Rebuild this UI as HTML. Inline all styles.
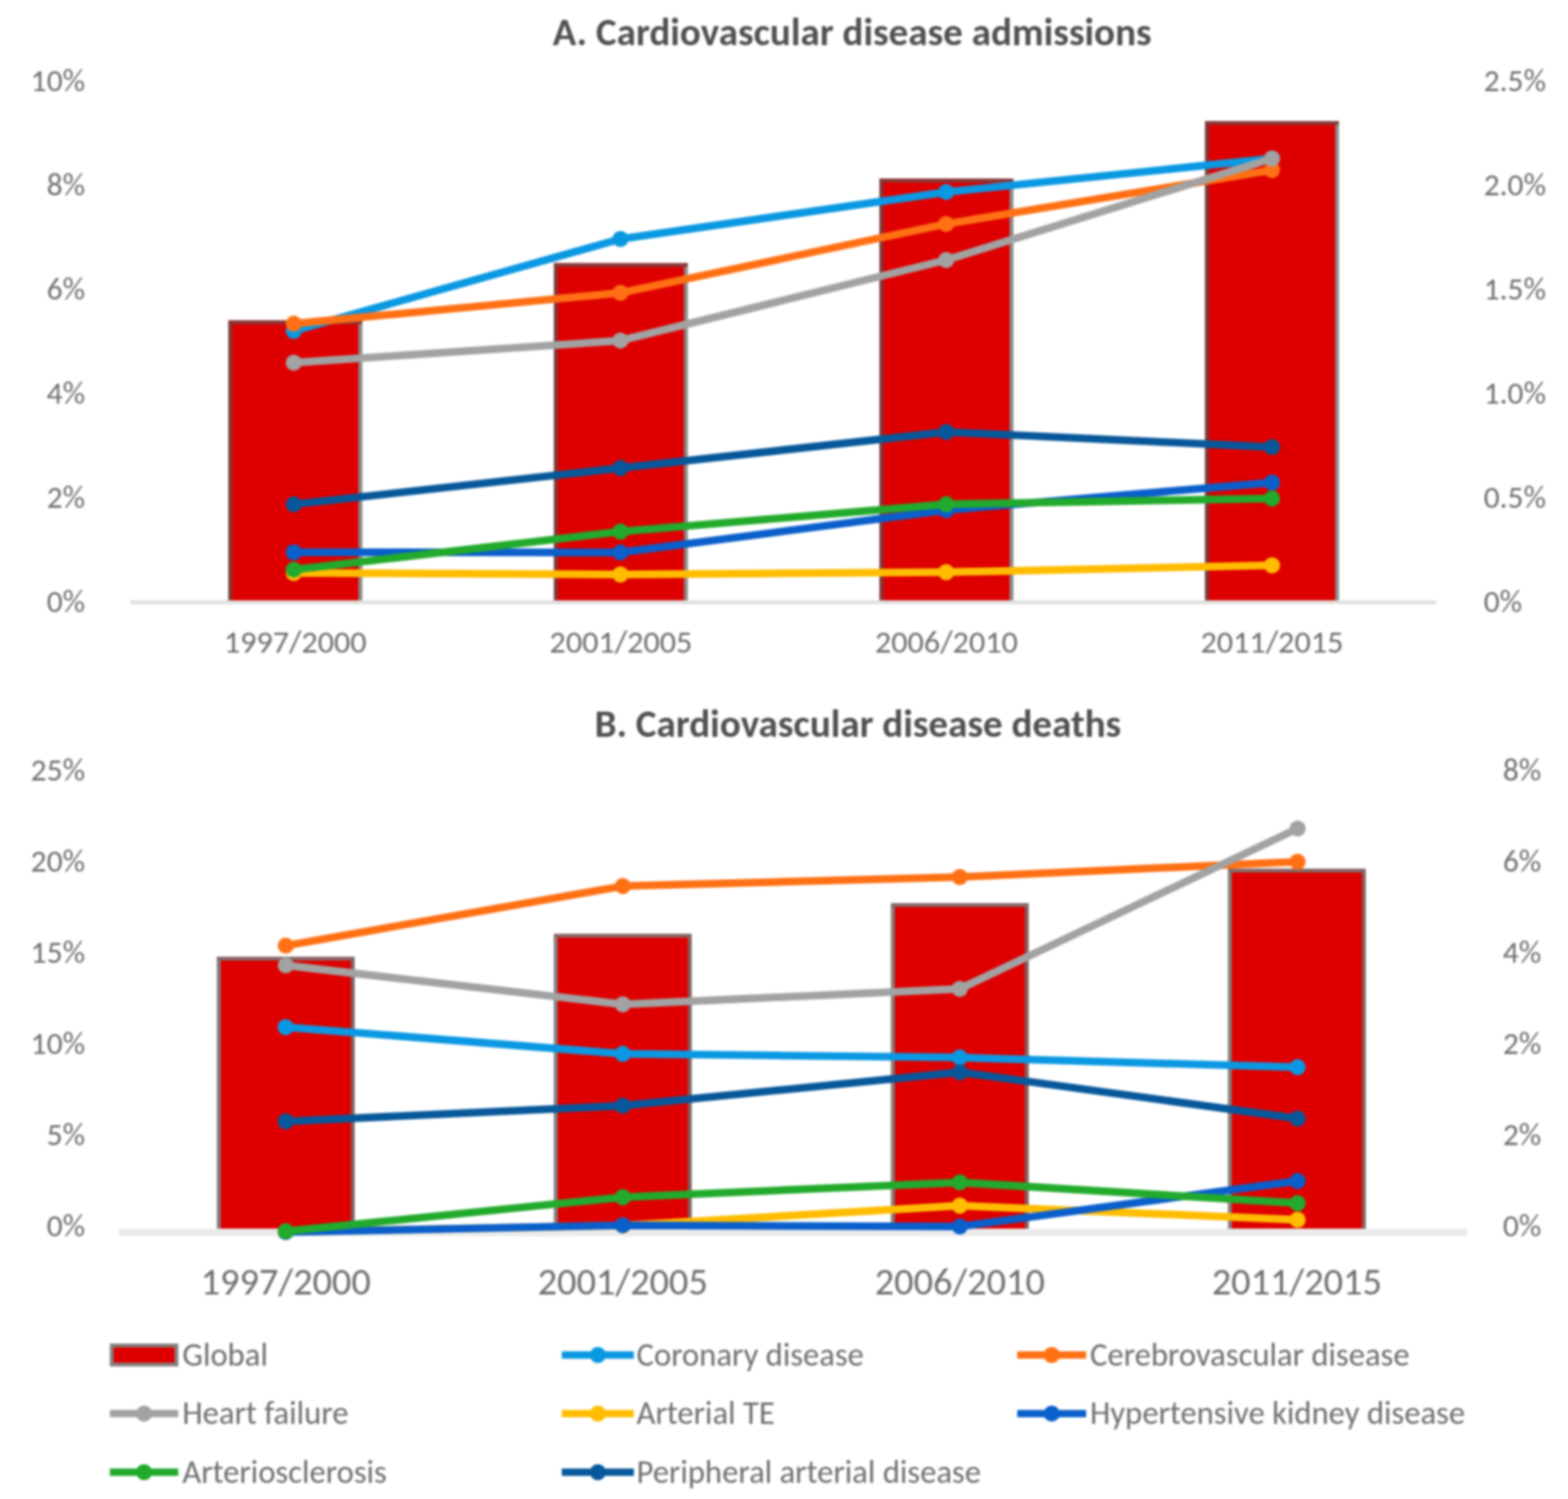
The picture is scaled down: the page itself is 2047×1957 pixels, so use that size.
<!DOCTYPE html>
<html><head><meta charset="utf-8"><title>Cardiovascular disease admissions and deaths</title>
<style>html,body{margin:0;padding:0;background:#fff;} body{width:2047px;height:1957px;overflow:hidden;} svg{display:block;}</style>
</head><body>
<svg width="2047" height="1957" viewBox="0 0 2047 1957" font-family="Carlito, 'Liberation Sans', sans-serif">
<defs><filter id="soft" x="0" y="0" width="100%" height="100%" color-interpolation-filters="sRGB"><feGaussianBlur stdDeviation="1.8"/></filter></defs>
<rect width="2047" height="1957" fill="#ffffff"/>
<g filter="url(#soft)">
<rect width="2047" height="1957" fill="#ffffff"/>
<text x="1112.5" y="58.5" text-anchor="middle" font-weight="bold" font-size="51" fill="#505050" textLength="781.8" lengthAdjust="spacingAndGlyphs">A. Cardiovascular disease admissions</text>
<text x="111" y="118.5" text-anchor="end" font-size="41" fill="#6e6e6e" textLength="70.9" lengthAdjust="spacingAndGlyphs">10%</text>
<text x="111" y="254.5" text-anchor="end" font-size="41" fill="#6e6e6e" textLength="50.1" lengthAdjust="spacingAndGlyphs">8%</text>
<text x="111" y="390.5" text-anchor="end" font-size="41" fill="#6e6e6e" textLength="50.1" lengthAdjust="spacingAndGlyphs">6%</text>
<text x="111" y="526.5" text-anchor="end" font-size="41" fill="#6e6e6e" textLength="50.1" lengthAdjust="spacingAndGlyphs">4%</text>
<text x="111" y="662.5" text-anchor="end" font-size="41" fill="#6e6e6e" textLength="50.1" lengthAdjust="spacingAndGlyphs">2%</text>
<text x="111" y="798.5" text-anchor="end" font-size="41" fill="#6e6e6e" textLength="50.1" lengthAdjust="spacingAndGlyphs">0%</text>
<text x="1937" y="118.5" font-size="41" fill="#6e6e6e" textLength="81.2" lengthAdjust="spacingAndGlyphs">2.5%</text>
<text x="1937" y="254.5" font-size="41" fill="#6e6e6e" textLength="81.2" lengthAdjust="spacingAndGlyphs">2.0%</text>
<text x="1937" y="390.5" font-size="41" fill="#6e6e6e" textLength="81.2" lengthAdjust="spacingAndGlyphs">1.5%</text>
<text x="1937" y="526.5" font-size="41" fill="#6e6e6e" textLength="81.2" lengthAdjust="spacingAndGlyphs">1.0%</text>
<text x="1937" y="662.5" font-size="41" fill="#6e6e6e" textLength="81.2" lengthAdjust="spacingAndGlyphs">0.5%</text>
<text x="1937" y="798.5" font-size="41" fill="#6e6e6e" textLength="50.1" lengthAdjust="spacingAndGlyphs">0%</text>
<rect x="298.0" y="418.3" width="174.9" height="367.7" fill="#DE0000"/>
<rect x="298.0" y="418.3" width="4.9" height="367.7" fill="#7a3c3c"/>
<rect x="468.0" y="418.3" width="4.9" height="367.7" fill="#8a8c8c"/>
<rect x="298.0" y="418.3" width="174.9" height="4.9" fill="#853a3a"/>
<rect x="723.1" y="343.6" width="174.9" height="442.4" fill="#DE0000"/>
<rect x="723.1" y="343.6" width="4.9" height="442.4" fill="#7a3c3c"/>
<rect x="893.1" y="343.6" width="4.9" height="442.4" fill="#8a8c8c"/>
<rect x="723.1" y="343.6" width="174.9" height="4.9" fill="#853a3a"/>
<rect x="1148.0" y="233.2" width="174.9" height="552.8" fill="#DE0000"/>
<rect x="1148.0" y="233.2" width="4.9" height="552.8" fill="#7a3c3c"/>
<rect x="1318.0" y="233.2" width="4.9" height="552.8" fill="#8a8c8c"/>
<rect x="1148.0" y="233.2" width="174.9" height="4.9" fill="#853a3a"/>
<rect x="1573.1" y="158.0" width="174.9" height="628.0" fill="#DE0000"/>
<rect x="1573.1" y="158.0" width="4.9" height="628.0" fill="#7a3c3c"/>
<rect x="1743.1" y="158.0" width="4.9" height="628.0" fill="#8a8c8c"/>
<rect x="1573.1" y="158.0" width="174.9" height="4.9" fill="#853a3a"/>
<rect x="170" y="783.8" width="1705" height="5.2" fill="#e0e0e0"/>
<text x="385.4" y="852.3" text-anchor="middle" font-size="42" fill="#6e6e6e" textLength="186.5" lengthAdjust="spacingAndGlyphs">1997/2000</text>
<text x="810.6" y="852.3" text-anchor="middle" font-size="42" fill="#6e6e6e" textLength="186.5" lengthAdjust="spacingAndGlyphs">2001/2005</text>
<text x="1235.5" y="852.3" text-anchor="middle" font-size="42" fill="#6e6e6e" textLength="186.5" lengthAdjust="spacingAndGlyphs">2006/2010</text>
<text x="1660.5" y="852.3" text-anchor="middle" font-size="42" fill="#6e6e6e" textLength="186.5" lengthAdjust="spacingAndGlyphs">2011/2015</text>
<polyline points="383.5,432 810,312 1235.2,250.7 1660.6,207" fill="none" stroke="#0A98E2" stroke-width="10" stroke-linejoin="round"/>
<circle cx="383.5" cy="432" r="10.5" fill="#0A98E2"/>
<circle cx="810" cy="312" r="10.5" fill="#0A98E2"/>
<circle cx="1235.2" cy="250.7" r="10.5" fill="#0A98E2"/>
<circle cx="1660.6" cy="207" r="10.5" fill="#0A98E2"/>
<polyline points="383.5,422.6 810,382.3 1235.2,292.4 1660.6,222" fill="none" stroke="#FF7014" stroke-width="10" stroke-linejoin="round"/>
<circle cx="383.5" cy="422.6" r="10.5" fill="#FF7014"/>
<circle cx="810" cy="382.3" r="10.5" fill="#FF7014"/>
<circle cx="1235.2" cy="292.4" r="10.5" fill="#FF7014"/>
<circle cx="1660.6" cy="222" r="10.5" fill="#FF7014"/>
<polyline points="383.5,473.5 810,444.7 1235.2,339.5 1660.6,207" fill="none" stroke="#A2A2A2" stroke-width="10" stroke-linejoin="round"/>
<circle cx="383.5" cy="473.5" r="10.5" fill="#A2A2A2"/>
<circle cx="810" cy="444.7" r="10.5" fill="#A2A2A2"/>
<circle cx="1235.2" cy="339.5" r="10.5" fill="#A2A2A2"/>
<circle cx="1660.6" cy="207" r="10.5" fill="#A2A2A2"/>
<polyline points="383.5,748 810,750 1235.2,747 1660.6,738" fill="none" stroke="#FFBC00" stroke-width="10" stroke-linejoin="round"/>
<circle cx="383.5" cy="748" r="10.5" fill="#FFBC00"/>
<circle cx="810" cy="750" r="10.5" fill="#FFBC00"/>
<circle cx="1235.2" cy="747" r="10.5" fill="#FFBC00"/>
<circle cx="1660.6" cy="738" r="10.5" fill="#FFBC00"/>
<polyline points="383.5,721 810,721.3 1235.2,666 1660.6,630" fill="none" stroke="#0A5FCB" stroke-width="10" stroke-linejoin="round"/>
<circle cx="383.5" cy="721" r="10.5" fill="#0A5FCB"/>
<circle cx="810" cy="721.3" r="10.5" fill="#0A5FCB"/>
<circle cx="1235.2" cy="666" r="10.5" fill="#0A5FCB"/>
<circle cx="1660.6" cy="630" r="10.5" fill="#0A5FCB"/>
<polyline points="383.5,743.7 810,694 1235.2,658.3 1660.6,650.8" fill="none" stroke="#22AA2C" stroke-width="10" stroke-linejoin="round"/>
<circle cx="383.5" cy="743.7" r="10.5" fill="#22AA2C"/>
<circle cx="810" cy="694" r="10.5" fill="#22AA2C"/>
<circle cx="1235.2" cy="658.3" r="10.5" fill="#22AA2C"/>
<circle cx="1660.6" cy="650.8" r="10.5" fill="#22AA2C"/>
<polyline points="383.5,658.4 810,611 1235.2,564 1660.6,583.7" fill="none" stroke="#07589A" stroke-width="10" stroke-linejoin="round"/>
<circle cx="383.5" cy="658.4" r="10.5" fill="#07589A"/>
<circle cx="810" cy="611" r="10.5" fill="#07589A"/>
<circle cx="1235.2" cy="564" r="10.5" fill="#07589A"/>
<circle cx="1660.6" cy="583.7" r="10.5" fill="#07589A"/>
<text x="1120" y="961.5" text-anchor="middle" font-weight="bold" font-size="51" fill="#505050" textLength="687.3" lengthAdjust="spacingAndGlyphs">B. Cardiovascular disease deaths</text>
<text x="111" y="1018.5" text-anchor="end" font-size="41" fill="#6e6e6e" textLength="70.9" lengthAdjust="spacingAndGlyphs">25%</text>
<text x="111" y="1137.5" text-anchor="end" font-size="41" fill="#6e6e6e" textLength="70.9" lengthAdjust="spacingAndGlyphs">20%</text>
<text x="111" y="1256.5" text-anchor="end" font-size="41" fill="#6e6e6e" textLength="70.9" lengthAdjust="spacingAndGlyphs">15%</text>
<text x="111" y="1375.5" text-anchor="end" font-size="41" fill="#6e6e6e" textLength="70.9" lengthAdjust="spacingAndGlyphs">10%</text>
<text x="111" y="1494.5" text-anchor="end" font-size="41" fill="#6e6e6e" textLength="50.1" lengthAdjust="spacingAndGlyphs">5%</text>
<text x="111" y="1613.5" text-anchor="end" font-size="41" fill="#6e6e6e" textLength="50.1" lengthAdjust="spacingAndGlyphs">0%</text>
<text x="2012" y="1018.5" text-anchor="end" font-size="41" fill="#6e6e6e" textLength="50.1" lengthAdjust="spacingAndGlyphs">8%</text>
<text x="2012" y="1137.5" text-anchor="end" font-size="41" fill="#6e6e6e" textLength="50.1" lengthAdjust="spacingAndGlyphs">6%</text>
<text x="2012" y="1256.5" text-anchor="end" font-size="41" fill="#6e6e6e" textLength="50.1" lengthAdjust="spacingAndGlyphs">4%</text>
<text x="2012" y="1375.5" text-anchor="end" font-size="41" fill="#6e6e6e" textLength="50.1" lengthAdjust="spacingAndGlyphs">2%</text>
<text x="2012" y="1494.5" text-anchor="end" font-size="41" fill="#6e6e6e" textLength="50.1" lengthAdjust="spacingAndGlyphs">2%</text>
<text x="2012" y="1613.5" text-anchor="end" font-size="41" fill="#6e6e6e" textLength="50.1" lengthAdjust="spacingAndGlyphs">0%</text>
<rect x="283.1" y="1249.1" width="179.8" height="359.9" fill="#DE0000"/>
<rect x="283.1" y="1249.1" width="4.9" height="359.9" fill="#838080"/>
<rect x="458.0" y="1249.1" width="4.9" height="359.9" fill="#806262"/>
<rect x="283.1" y="1249.1" width="179.8" height="4.9" fill="#856a6a"/>
<rect x="723.1" y="1219.1" width="179.8" height="389.9" fill="#DE0000"/>
<rect x="723.1" y="1219.1" width="4.9" height="389.9" fill="#838080"/>
<rect x="898.0" y="1219.1" width="4.9" height="389.9" fill="#806262"/>
<rect x="723.1" y="1219.1" width="179.8" height="4.9" fill="#856a6a"/>
<rect x="1163.1" y="1179.1" width="179.8" height="429.9" fill="#DE0000"/>
<rect x="1163.1" y="1179.1" width="4.9" height="429.9" fill="#838080"/>
<rect x="1338.0" y="1179.1" width="4.9" height="429.9" fill="#806262"/>
<rect x="1163.1" y="1179.1" width="179.8" height="4.9" fill="#856a6a"/>
<rect x="1603.1" y="1134.1" width="179.8" height="474.9" fill="#DE0000"/>
<rect x="1603.1" y="1134.1" width="4.9" height="474.9" fill="#838080"/>
<rect x="1778.0" y="1134.1" width="4.9" height="474.9" fill="#806262"/>
<rect x="1603.1" y="1134.1" width="179.8" height="4.9" fill="#856a6a"/>
<rect x="155" y="1604" width="1760" height="10.0" fill="#ebebeb"/>
<text x="373.0" y="1689.8" text-anchor="middle" font-size="50" fill="#6e6e6e" textLength="222.0" lengthAdjust="spacingAndGlyphs">1997/2000</text>
<text x="813.0" y="1689.8" text-anchor="middle" font-size="50" fill="#6e6e6e" textLength="222.0" lengthAdjust="spacingAndGlyphs">2001/2005</text>
<text x="1253.0" y="1689.8" text-anchor="middle" font-size="50" fill="#6e6e6e" textLength="222.0" lengthAdjust="spacingAndGlyphs">2006/2010</text>
<text x="1693.0" y="1689.8" text-anchor="middle" font-size="50" fill="#6e6e6e" textLength="222.0" lengthAdjust="spacingAndGlyphs">2011/2015</text>
<polyline points="373,1340.9 813,1375.8 1253,1380.6 1694,1393.3" fill="none" stroke="#0A98E2" stroke-width="10" stroke-linejoin="round"/>
<circle cx="373" cy="1340.9" r="10.5" fill="#0A98E2"/>
<circle cx="813" cy="1375.8" r="10.5" fill="#0A98E2"/>
<circle cx="1253" cy="1380.6" r="10.5" fill="#0A98E2"/>
<circle cx="1694" cy="1393.3" r="10.5" fill="#0A98E2"/>
<polyline points="373,1234.6 813,1156.8 1253,1145 1694,1125" fill="none" stroke="#FF7014" stroke-width="10" stroke-linejoin="round"/>
<circle cx="373" cy="1234.6" r="10.5" fill="#FF7014"/>
<circle cx="813" cy="1156.8" r="10.5" fill="#FF7014"/>
<circle cx="1253" cy="1145" r="10.5" fill="#FF7014"/>
<circle cx="1694" cy="1125" r="10.5" fill="#FF7014"/>
<polyline points="373,1260.3 813,1311.2 1253,1291 1694,1081.7" fill="none" stroke="#A2A2A2" stroke-width="10" stroke-linejoin="round"/>
<circle cx="373" cy="1260.3" r="10.5" fill="#A2A2A2"/>
<circle cx="813" cy="1311.2" r="10.5" fill="#A2A2A2"/>
<circle cx="1253" cy="1291" r="10.5" fill="#A2A2A2"/>
<circle cx="1694" cy="1081.7" r="10.5" fill="#A2A2A2"/>
<polyline points="373,1608 813,1600 1253,1574 1694,1592.5" fill="none" stroke="#FFBC00" stroke-width="10" stroke-linejoin="round"/>
<circle cx="373" cy="1608" r="10.5" fill="#FFBC00"/>
<circle cx="813" cy="1600" r="10.5" fill="#FFBC00"/>
<circle cx="1253" cy="1574" r="10.5" fill="#FFBC00"/>
<circle cx="1694" cy="1592.5" r="10.5" fill="#FFBC00"/>
<polyline points="373,1608.5 813,1599.7 1253,1601.3 1694,1541.8" fill="none" stroke="#0A5FCB" stroke-width="10" stroke-linejoin="round"/>
<circle cx="373" cy="1608.5" r="10.5" fill="#0A5FCB"/>
<circle cx="813" cy="1599.7" r="10.5" fill="#0A5FCB"/>
<circle cx="1253" cy="1601.3" r="10.5" fill="#0A5FCB"/>
<circle cx="1694" cy="1541.8" r="10.5" fill="#0A5FCB"/>
<polyline points="373,1607.5 813,1563 1253,1543.7 1694,1570.8" fill="none" stroke="#22AA2C" stroke-width="10" stroke-linejoin="round"/>
<circle cx="373" cy="1607.5" r="10.5" fill="#22AA2C"/>
<circle cx="813" cy="1563" r="10.5" fill="#22AA2C"/>
<circle cx="1253" cy="1543.7" r="10.5" fill="#22AA2C"/>
<circle cx="1694" cy="1570.8" r="10.5" fill="#22AA2C"/>
<polyline points="373,1464 813,1443.6 1253,1399.8 1694,1460.3" fill="none" stroke="#07589A" stroke-width="10" stroke-linejoin="round"/>
<circle cx="373" cy="1464" r="10.5" fill="#07589A"/>
<circle cx="813" cy="1443.6" r="10.5" fill="#07589A"/>
<circle cx="1253" cy="1399.8" r="10.5" fill="#07589A"/>
<circle cx="1694" cy="1460.3" r="10.5" fill="#07589A"/>
<rect x="143.4" y="1754" width="89.4" height="30" fill="#848080"/>
<rect x="148.3" y="1758.9" width="79.6" height="20.2" fill="#DE0000"/>
<text x="238" y="1782.5" font-size="42.6" fill="#6e6e6e" textLength="111.7" lengthAdjust="spacingAndGlyphs">Global</text>
<rect x="733.4" y="1764.2" width="94.1" height="9.6" fill="#0A98E2"/>
<circle cx="780.5" cy="1769" r="10.5" fill="#0A98E2"/>
<text x="831" y="1782.5" font-size="42.6" fill="#6e6e6e" textLength="296.8" lengthAdjust="spacingAndGlyphs">Coronary disease</text>
<rect x="1328" y="1764.2" width="90.0" height="9.6" fill="#FF7014"/>
<circle cx="1373.0" cy="1769" r="10.5" fill="#FF7014"/>
<text x="1423" y="1782.5" font-size="42.6" fill="#6e6e6e" textLength="417.2" lengthAdjust="spacingAndGlyphs">Cerebrovascular disease</text>
<rect x="143.4" y="1840.7" width="89.4" height="9.6" fill="#A2A2A2"/>
<circle cx="188.1" cy="1845.5" r="10.5" fill="#A2A2A2"/>
<text x="238" y="1859.0" font-size="42.6" fill="#6e6e6e" textLength="216.9" lengthAdjust="spacingAndGlyphs">Heart failure</text>
<rect x="733.4" y="1840.7" width="94.1" height="9.6" fill="#FFBC00"/>
<circle cx="780.5" cy="1845.5" r="10.5" fill="#FFBC00"/>
<text x="831" y="1859.0" font-size="42.6" fill="#6e6e6e" textLength="180.5" lengthAdjust="spacingAndGlyphs">Arterial TE</text>
<rect x="1328" y="1840.7" width="90.0" height="9.6" fill="#0A5FCB"/>
<circle cx="1373.0" cy="1845.5" r="10.5" fill="#0A5FCB"/>
<text x="1423" y="1859.0" font-size="42.6" fill="#6e6e6e" textLength="489.7" lengthAdjust="spacingAndGlyphs">Hypertensive kidney disease</text>
<rect x="143.4" y="1917.2" width="89.4" height="9.6" fill="#22AA2C"/>
<circle cx="188.1" cy="1922" r="10.5" fill="#22AA2C"/>
<text x="238" y="1935.5" font-size="42.6" fill="#6e6e6e" textLength="267.0" lengthAdjust="spacingAndGlyphs">Arteriosclerosis</text>
<rect x="733.4" y="1917.2" width="94.1" height="9.6" fill="#07589A"/>
<circle cx="780.5" cy="1922" r="10.5" fill="#07589A"/>
<text x="831" y="1935.5" font-size="42.6" fill="#6e6e6e" textLength="449.7" lengthAdjust="spacingAndGlyphs">Peripheral arterial disease</text>
</g>
</svg>
</body></html>
